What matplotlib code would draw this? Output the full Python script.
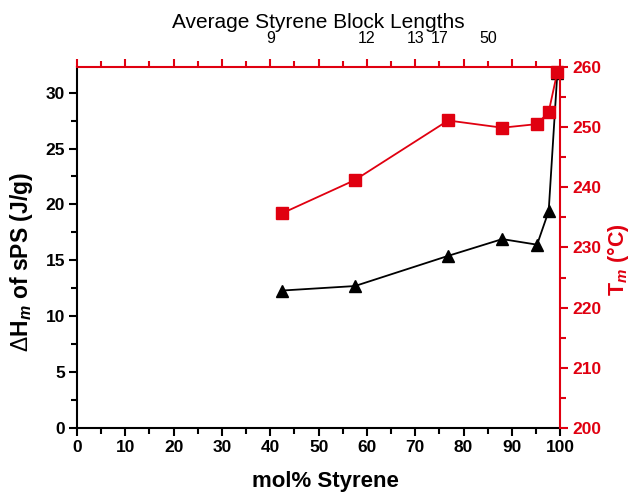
import matplotlib
matplotlib.use('Agg')
import matplotlib.pyplot as plt
from matplotlib.ticker import MultipleLocator

plt.rcParams['font.family'] = ['Liberation Sans', 'DejaVu Sans']
plt.rcParams['mathtext.fontset'] = 'custom'
plt.rcParams['mathtext.rm'] = 'Liberation Sans'
plt.rcParams['mathtext.it'] = 'Liberation Sans:italic:bold'
plt.rcParams['mathtext.bf'] = 'Liberation Sans:bold'

# composition (mol% styrene) and measured values
styrene = [42.5, 57.5, 76.8, 88.0, 95.2, 97.6, 99.4]
dH_m = [12.3, 12.7, 15.4, 16.9, 16.4, 19.4, 31.8]
T_m = [235.7, 241.2, 251.1, 249.9, 250.5, 252.5, 259.2]

# block-length labels on the top axis
block_pos = [40, 60, 70, 75, 85]
block_labels = ['9', '12', '13', '17', '50']

red = '#e00010'

fig = plt.figure(figsize=(6.33, 4.92), dpi=100)
ax = fig.add_axes([0.1216, 0.130, 0.7635, 0.734])

ax.plot(styrene, dH_m, color='black', lw=1.3, marker='^', ms=9,
        markerfacecolor='black', markeredgecolor='black', clip_on=False)
ax.set_xlim(0, 100)
ax.set_ylim(0, 32.3)
ax.xaxis.set_major_locator(MultipleLocator(10))
ax.xaxis.set_minor_locator(MultipleLocator(5))
ax.yaxis.set_major_locator(MultipleLocator(5))
ax.yaxis.set_minor_locator(MultipleLocator(2.5))
ax.tick_params(which='both', direction='out', width=1.5, labelsize=12.5, pad=2.5)
ax.tick_params(which='major', length=6)
ax.tick_params(which='minor', length=4)
for lab in ax.get_xticklabels() + ax.get_yticklabels():
    lab.set_fontweight('bold')
ax.spines['left'].set_linewidth(1.5)
ax.spines['bottom'].set_linewidth(1.5)
ax.spines['top'].set_visible(False)
ax.spines['right'].set_visible(False)
ax.set_xlabel('mol% Styrene', fontsize=16, fontweight='bold')
ax.xaxis.set_label_coords(0.515, -0.118)
ax.set_ylabel(r'$\Delta$H$_{m}$ of sPS (J/g)', fontsize=16.5, fontweight='bold')
ax.yaxis.set_label_coords(-0.087, 0.46)

# top axis: block lengths
axt = ax.twiny()
axt.set_xlim(0, 100)
major = list(range(0, 101, 10))
minor = list(range(5, 100, 10))
axt.set_xticks(major, labels=[block_labels[block_pos.index(p)] if p in block_pos else '' for p in major])
axt.set_xticks(minor, labels=[block_labels[block_pos.index(p)] if p in block_pos else '' for p in minor], minor=True)
axt.tick_params(which='both', direction='out', width=1.5, color=red, labelsize=11.5,
                labelcolor='black')
axt.tick_params(which='major', length=6, pad=9)
axt.tick_params(which='minor', length=4, pad=11)
axt.set_xlabel('Average Styrene Block Lengths', fontsize=15)
axt.xaxis.set_label_coords(0.5, 1.108)
for s in ['left', 'bottom', 'right']:
    axt.spines[s].set_visible(False)
axt.spines['top'].set_color(red)
axt.spines['top'].set_linewidth(1.5)

# right axis: melting temperature
axr = ax.twinx()
axr.plot(styrene, T_m, color=red, lw=1.3, marker='s', ms=8,
         markerfacecolor=red, markeredgecolor=red, clip_on=False)
axr.set_ylim(200, 260)
axr.yaxis.set_major_locator(MultipleLocator(10))
axr.yaxis.set_minor_locator(MultipleLocator(5))
axr.tick_params(which='both', direction='out', width=1.5, color=red, labelcolor=red,
                labelsize=12.5, pad=2.5)
axr.tick_params(which='major', length=6)
axr.tick_params(which='minor', length=4)
for lab in axr.get_yticklabels():
    lab.set_fontweight('bold')
for s in ['left', 'bottom', 'top']:
    axr.spines[s].set_visible(False)
axr.spines['right'].set_color(red)
axr.spines['right'].set_linewidth(1.5)
axr.set_ylabel(r'T$_{m}$ (°C)', fontsize=15.5, fontweight='bold', color=red)
axr.yaxis.set_label_coords(1.093, 0.465)

fig.savefig('out.png', dpi=100)
